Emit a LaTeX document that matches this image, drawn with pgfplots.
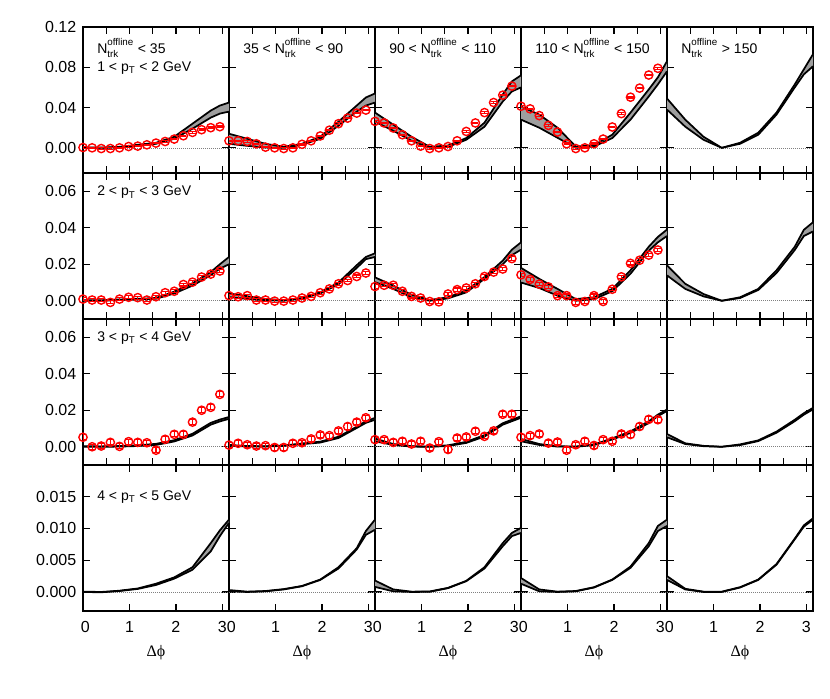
\documentclass[border=0pt]{standalone}
\usepackage{fontspec}
\setmainfont{Liberation Sans}
\newfontfamily\symfont{Liberation Serif}
\usepackage{amsmath}
\usepackage{pgfplots}
\usepackage{pgfplotstable}
\usepgfplotslibrary{groupplots,fillbetween}
\pgfplotsset{compat=1.18}

% ---------- data points (x = i*pi/16) ----------
\pgfplotstableread{
x y
0.0000 0.0003
0.1963 0.0000
0.3927 -0.0007
0.5890 -0.0007
0.7854 0.0000
0.9817 0.0013
1.1781 0.0017
1.3744 0.0030
1.5708 0.0047
1.7671 0.0063
1.9635 0.0087
2.1598 0.0120
2.3562 0.0153
2.5525 0.0180
2.7489 0.0200
2.9452 0.0210
}\dataAa
\pgfplotstableread{
x y
0.0000 0.0070
0.1963 0.0070
0.3927 0.0063
0.5890 0.0040
0.7854 0.0007
0.9817 0.0000
1.1781 -0.0007
1.3744 0.0000
1.5708 0.0035
1.7671 0.0070
1.9635 0.0118
2.1598 0.0175
2.3562 0.0240
2.5525 0.0295
2.7489 0.0345
2.9452 0.0375
}\dataAb
\pgfplotstableread{
x y
0.0000 0.0263
0.1963 0.0247
0.3927 0.0197
0.5890 0.0130
0.7854 0.0070
0.9817 0.0017
1.1781 -0.0007
1.3744 0.0000
1.5708 0.0013
1.7671 0.0070
1.9635 0.0163
2.1598 0.0247
2.3562 0.0350
2.5525 0.0450
2.7489 0.0523
2.9452 0.0613
}\dataAc
\pgfplotstableread{
x y
0.0000 0.0413
0.1963 0.0387
0.3927 0.0320
0.5890 0.0223
0.7854 0.0157
0.9817 0.0040
1.1781 -0.0007
1.3744 0.0000
1.5708 0.0040
1.7671 0.0087
1.9635 0.0207
2.1598 0.0340
2.3562 0.0503
2.5525 0.0593
2.7489 0.0723
2.9452 0.0790
}\dataAd
\pgfplotstableread{
x y
0.0000 0.0009
0.1963 0.0004
0.3927 0.0004
0.5890 -0.0009
0.7854 0.0009
0.9817 0.0019
1.1781 0.0017
1.3744 0.0004
1.5708 0.0022
1.7671 0.0044
1.9635 0.0052
2.1598 0.0089
2.3562 0.0102
2.5525 0.0130
2.7489 0.0146
2.9452 0.0163
}\dataBa
\pgfplotstableread{
x y
0.0000 0.0028
0.1963 0.0022
0.3927 0.0028
0.5890 0.0004
0.7854 0.0004
0.9817 -0.0002
1.1781 -0.0002
1.3744 0.0004
1.5708 0.0015
1.7671 0.0024
1.9635 0.0044
2.1598 0.0065
2.3562 0.0093
2.5525 0.0111
2.7489 0.0133
2.9452 0.0152
}\dataBb
\pgfplotstableread{
x y
0.0000 0.0078
0.1963 0.0085
0.3927 0.0085
0.5890 0.0052
0.7854 0.0024
0.9817 0.0015
1.1781 -0.0004
1.3744 -0.0006
1.5708 0.0037
1.7671 0.0061
1.9635 0.0070
2.1598 0.0093
2.3562 0.0133
2.5525 0.0157
2.7489 0.0174
2.9452 0.0231
}\dataBc
\pgfplotstableread{
x y
0.0000 0.0142
0.1963 0.0117
0.3927 0.0091
0.5890 0.0076
0.7854 0.0028
0.9817 0.0028
1.1781 -0.0009
1.3744 -0.0004
1.5708 0.0028
1.7671 -0.0004
1.9635 0.0063
2.1598 0.0131
2.3562 0.0205
2.5525 0.0222
2.7489 0.0250
2.9452 0.0278
}\dataBd
\pgfplotstableread{
x y
0.0000 0.0052
0.1963 0.0000
0.3927 0.0004
0.5890 0.0024
0.7854 0.0002
0.9817 0.0028
1.1781 0.0024
1.3744 0.0022
1.5708 -0.0019
1.7671 0.0041
1.9635 0.0068
2.1598 0.0068
2.3562 0.0135
2.5525 0.0200
2.7489 0.0216
2.9452 0.0287
}\dataCa
\pgfplotstableread{
x y
0.0000 0.0009
0.1963 0.0019
0.3927 0.0011
0.5890 0.0004
0.7854 0.0006
0.9817 -0.0004
1.1781 -0.0004
1.3744 0.0019
1.5708 0.0022
1.7671 0.0043
1.9635 0.0065
2.1598 0.0061
2.3562 0.0087
2.5525 0.0111
2.7489 0.0135
2.9452 0.0159
}\dataCb
\pgfplotstableread{
x y
0.0000 0.0039
0.1963 0.0039
0.3927 0.0024
0.5890 0.0030
0.7854 0.0015
0.9817 0.0030
1.1781 -0.0007
1.3744 0.0028
1.5708 -0.0015
1.7671 0.0048
1.9635 0.0054
2.1598 0.0085
2.3562 0.0057
2.5525 0.0087
2.7489 0.0178
2.9452 0.0178
}\dataCc
\pgfplotstableread{
x y
0.0000 0.0052
0.1963 0.0061
0.3927 0.0070
0.5890 0.0020
0.7854 0.0026
0.9817 -0.0019
1.1781 0.0011
1.3744 0.0030
1.5708 0.0007
1.7671 0.0039
1.9635 0.0030
2.1598 0.0070
2.3562 0.0067
2.5525 0.0111
2.7489 0.0150
2.9452 0.0148
}\dataCd

% ---------- model bands ----------
\pgfplotstableread{
x lo hi
0.0000 0.0000 0.0005
0.3927 0.0000 0.0003
0.7854 0.0005 0.0010
1.1781 0.0020 0.0030
1.5708 0.0040 0.0050
1.9635 0.0090 0.0110
2.3562 0.0190 0.0240
2.7489 0.0300 0.0370
2.9452 0.0340 0.0420
3.1416 0.0360 0.0450
}\bandAa
\pgfplotstableread{
x lo hi
0.0000 0.0040 0.0140
0.3927 0.0020 0.0090
0.7854 0.0003 0.0040
1.1781 0.0000 0.0010
1.5708 0.0030 0.0040
1.9635 0.0090 0.0110
2.3562 0.0220 0.0260
2.7489 0.0360 0.0420
2.9452 0.0420 0.0500
3.1416 0.0450 0.0540
}\bandAb
\pgfplotstableread{
x lo hi
0.0000 0.0260 0.0350
0.3927 0.0170 0.0230
0.7854 0.0070 0.0110
1.1781 0.0000 0.0010
1.5708 0.0010 0.0023
1.9635 0.0080 0.0097
2.3562 0.0210 0.0250
2.7489 0.0460 0.0530
2.9452 0.0560 0.0660
3.1416 0.0600 0.0720
}\bandAc
\pgfplotstableread{
x lo hi
0.0000 0.0280 0.0410
0.3927 0.0200 0.0330
0.7854 0.0100 0.0200
1.1781 0.0000 0.0013
1.5708 0.0013 0.0027
1.9635 0.0097 0.0130
2.3562 0.0280 0.0350
2.7489 0.0510 0.0580
2.9452 0.0630 0.0700
3.1416 0.0760 0.0860
}\bandAd
\pgfplotstableread{
x lo hi
0.0000 0.0380 0.0490
0.3927 0.0210 0.0280
0.7854 0.0080 0.0110
1.1781 0.0000 0.0000
1.5708 0.0040 0.0050
1.9635 0.0130 0.0150
2.3562 0.0330 0.0350
2.7489 0.0600 0.0630
2.9452 0.0730 0.0780
3.1416 0.0810 0.0930
}\bandAe
\pgfplotstableread{
x lo hi
0.0000 0.0000 0.0003
0.3927 0.0000 0.0003
0.7854 0.0004 0.0007
1.1781 0.0007 0.0011
1.5708 0.0011 0.0015
1.9635 0.0040 0.0050
2.3562 0.0083 0.0096
2.7489 0.0140 0.0157
2.9452 0.0176 0.0200
3.1416 0.0200 0.0240
}\bandBa
\pgfplotstableread{
x lo hi
0.0000 0.0020 0.0040
0.3927 0.0010 0.0025
0.7854 0.0003 0.0010
1.1781 0.0000 0.0003
1.5708 0.0012 0.0015
1.9635 0.0040 0.0046
2.3562 0.0090 0.0100
2.7489 0.0180 0.0195
2.9452 0.0228 0.0240
3.1416 0.0240 0.0260
}\bandBb
\pgfplotstableread{
x lo hi
0.0000 0.0102 0.0128
0.3927 0.0065 0.0083
0.7854 0.0019 0.0033
1.1781 0.0000 0.0004
1.5708 0.0013 0.0019
1.9635 0.0046 0.0056
2.3562 0.0120 0.0130
2.7489 0.0200 0.0220
2.9452 0.0250 0.0280
3.1416 0.0280 0.0320
}\bandBc
\pgfplotstableread{
x lo hi
0.0000 0.0100 0.0180
0.3927 0.0070 0.0120
0.7854 0.0028 0.0065
1.1781 0.0000 0.0009
1.5708 0.0009 0.0019
1.9635 0.0052 0.0065
2.3562 0.0148 0.0167
2.7489 0.0274 0.0296
2.9452 0.0320 0.0350
3.1416 0.0355 0.0390
}\bandBd
\pgfplotstableread{
x lo hi
0.0000 0.0139 0.0194
0.3927 0.0065 0.0093
0.7854 0.0024 0.0037
1.1781 0.0000 0.0000
1.5708 0.0015 0.0019
1.9635 0.0059 0.0065
2.3562 0.0152 0.0167
2.7489 0.0278 0.0296
2.9452 0.0355 0.0389
3.1416 0.0380 0.0430
}\bandBe
\pgfplotstableread{
x lo hi
0.0000 0.0000 0.0003
0.3927 0.0000 0.0002
0.7854 0.0001 0.0004
1.1781 0.0004 0.0008
1.5708 0.0010 0.0016
1.9635 0.0029 0.0036
2.3562 0.0062 0.0071
2.7489 0.0121 0.0131
2.9452 0.0139 0.0149
3.1416 0.0153 0.0163
}\bandCa
\pgfplotstableread{
x lo hi
0.0000 0.0006 0.0010
0.3927 0.0002 0.0004
0.7854 0.0001 0.0003
1.1781 0.0005 0.0007
1.5708 0.0014 0.0018
1.9635 0.0023 0.0028
2.3562 0.0048 0.0055
2.7489 0.0103 0.0110
2.9452 0.0131 0.0140
3.1416 0.0148 0.0158
}\bandCb
\pgfplotstableread{
x lo hi
0.0000 0.0030 0.0045
0.3927 0.0010 0.0015
0.7854 0.0001 0.0003
1.1781 0.0000 0.0001
1.5708 0.0004 0.0008
1.9635 0.0021 0.0027
2.3562 0.0056 0.0064
2.7489 0.0121 0.0129
2.9452 0.0140 0.0148
3.1416 0.0159 0.0167
}\bandCc
\pgfplotstableread{
x lo hi
0.0000 0.0030 0.0043
0.3927 0.0010 0.0015
0.7854 0.0001 0.0003
1.1781 0.0000 0.0001
1.5708 0.0009 0.0013
1.9635 0.0040 0.0046
2.3562 0.0076 0.0084
2.7489 0.0130 0.0140
2.9452 0.0168 0.0176
3.1416 0.0196 0.0204
}\bandCd
\pgfplotstableread{
x lo hi
0.0000 0.0052 0.0070
0.3927 0.0015 0.0019
0.7854 0.0003 0.0005
1.1781 0.0000 0.0000
1.5708 0.0009 0.0013
1.9635 0.0031 0.0035
2.3562 0.0077 0.0083
2.7489 0.0140 0.0148
2.9452 0.0176 0.0184
3.1416 0.0205 0.0213
}\bandCe
\pgfplotstableread{
x lo hi
0.0000 0.00000 0.00005
0.3927 -0.00005 0.00000
0.7854 0.00015 0.00020
1.1781 0.00048 0.00055
1.5708 0.00110 0.00130
1.9635 0.00210 0.00230
2.3562 0.00350 0.00390
2.7489 0.00640 0.00770
2.9452 0.00880 0.00970
3.1416 0.01090 0.01140
}\bandDa
\pgfplotstableread{
x lo hi
0.0000 0.00010 0.00030
0.3927 0.00000 0.00005
0.7854 0.00010 0.00015
1.1781 0.00040 0.00045
1.5708 0.00090 0.00095
1.9635 0.00190 0.00195
2.3562 0.00370 0.00390
2.7489 0.00670 0.00690
2.9452 0.00900 0.00960
3.1416 0.00980 0.01140
}\bandDb
\pgfplotstableread{
x lo hi
0.0000 0.00080 0.00180
0.3927 0.00010 0.00040
0.7854 0.00000 0.00005
1.1781 0.00003 0.00008
1.5708 0.00060 0.00065
1.9635 0.00170 0.00175
2.3562 0.00370 0.00390
2.7489 0.00720 0.00770
2.9452 0.00880 0.00930
3.1416 0.00930 0.01010
}\bandDc
\pgfplotstableread{
x lo hi
0.0000 0.00130 0.00220
0.3927 0.00010 0.00040
0.7854 0.00000 0.00005
1.1781 0.00010 0.00015
1.5708 0.00070 0.00075
1.9635 0.00190 0.00195
2.3562 0.00380 0.00400
2.7489 0.00720 0.00770
2.9452 0.00960 0.01040
3.1416 0.01040 0.01140
}\bandDd
\pgfplotstableread{
x lo hi
0.0000 0.00190 0.00250
0.3927 0.00040 0.00050
0.7854 0.00000 0.00005
1.1781 0.00000 0.00005
1.5708 0.00070 0.00075
1.9635 0.00190 0.00195
2.3562 0.00430 0.00440
2.7489 0.00830 0.00840
2.9452 0.01030 0.01050
3.1416 0.01140 0.01160
}\bandDe

\newcommand{\lf}{\fontsize{10.5pt}{12pt}\selectfont}
\newcommand{\tf}{\fontsize{12pt}{14pt}\selectfont}
\newcommand{\zero}{\addplot[gray, densely dotted, line width=0.5pt, forget plot] coordinates {(0,0) (3.1416,0)};}
\newcommand{\band}[1]{%
  \addplot[draw=none, name path=lo, forget plot] table[x=x,y=lo]{#1};
  \addplot[draw=none, name path=hi, forget plot] table[x=x,y=hi]{#1};
  \addplot[fill=black!38, draw=none, forget plot] fill between[of=lo and hi];
  \addplot[black, line width=1.3pt, forget plot] table[x=x,y=lo]{#1};
  \addplot[black, line width=1.3pt, forget plot] table[x=x,y=hi]{#1};
}
\newcommand{\pts}[2]{%
  \addplot[red, only marks, mark=o, mark size=3.1pt, line width=1.05pt,
    error bars/.cd, y dir=both, y fixed=#2,
    error bar style={line width=0.8pt, red},
    error mark options={rotate=90, mark size=2.3pt, line width=0.8pt, red}]
    table[x=x,y=y]{#1};
}
\newcommand{\lab}[2]{\node[anchor=base west, font=\lf, inner sep=0pt] at (rel axis cs:0.096,#1) {#2};}
\newcommand{\Nt}{N$^{\text{\raisebox{1.5pt}{offline}}}_{\text{\raisebox{-0.8pt}{trk}}}$}
\newcommand{\pT}{p$_{\text{T}}$}

\pgfplotsset{
  rowA/.style={ymin=-0.025, ymax=0.12, ytick={0,0.04,0.08,0.12},
    yticklabel style={/pgf/number format/fixed, /pgf/number format/fixed zerofill, /pgf/number format/precision=2}},
  rowB/.style={ymin=-0.01, ymax=0.07, ytick={0,0.02,0.04,0.06},
    yticklabel style={/pgf/number format/fixed, /pgf/number format/fixed zerofill, /pgf/number format/precision=2}},
  rowD/.style={ymin=-0.003, ymax=0.02, ytick={0,0.005,0.01,0.015},
    yticklabel style={/pgf/number format/fixed, /pgf/number format/fixed zerofill, /pgf/number format/precision=3},
    minor x tick style={draw=none}},
}

\begin{document}
\begin{tikzpicture}
\begin{groupplot}[
  group style={group name=G, group size=5 by 4, horizontal sep=0pt, vertical sep=0pt,
    xticklabels at=edge bottom, yticklabels at=edge left, xlabels at=edge bottom},
  width=109.5pt, height=109.5pt, scale only axis,
  xmin=0, xmax=3.1416,
  xtick={0,1,2,3}, minor xtick={0.5,1.5,2.5},
  xticklabels={{\hspace{3.4pt}0},1,2,{3\hspace{3.8pt}}},
  scaled y ticks=false,
  /pgf/number format/assume math mode=true,
  tick label style={font=\tf},
  xticklabel style={yshift=-4.2pt},
  yticklabel style={xshift=-1.5pt},
  major tick length=5pt, minor tick length=5pt,
  tick style={line width=0.9pt, black},
  axis line style={line width=1.1pt},
  tick align=inside,
  xlabel={\fontsize{12pt}{14pt}\selectfont\symfont Δϕ},
  xlabel style={yshift=-3pt},
]
% ---- row 1 ----
\nextgroupplot[rowA]
\coordinate (tl) at (rel axis cs:0,1);
\zero \band{\bandAa} \pts{\dataAa}{0.0007}
\lab{0.82}{\Nt{} < 35}
\lab{0.694}{1 < \pT{} < 2 GeV}
\nextgroupplot[rowA]
\zero \band{\bandAb} \pts{\dataAb}{0.0007}
\lab{0.82}{35 < \Nt{} < 90}
\nextgroupplot[rowA]
\zero \band{\bandAc} \pts{\dataAc}{0.0007}
\lab{0.82}{90 < \Nt{} < 110}
\nextgroupplot[rowA]
\zero \band{\bandAd} \pts{\dataAd}{0.0008}
\lab{0.82}{110 < \Nt{} < 150}
\nextgroupplot[rowA]
\zero \band{\bandAe}
\lab{0.82}{\Nt{} > 150}
% ---- row 2 ----
\nextgroupplot[rowB]
\zero \band{\bandBa} \pts{\dataBa}{0.0008}
\lab{0.843}{2 < \pT{} < 3 GeV}
\nextgroupplot[rowB]
\zero \band{\bandBb} \pts{\dataBb}{0.0008}
\nextgroupplot[rowB]
\zero \band{\bandBc} \pts{\dataBc}{0.0009}
\nextgroupplot[rowB]
\zero \band{\bandBd} \pts{\dataBd}{0.0009}
\nextgroupplot[rowB]
\zero \band{\bandBe}
% ---- row 3 ----
\nextgroupplot[rowB]
\zero \band{\bandCa} \pts{\dataCa}{0.0014}
\lab{0.847}{3 < \pT{} < 4 GeV}
\nextgroupplot[rowB]
\zero \band{\bandCb} \pts{\dataCb}{0.0014}
\nextgroupplot[rowB]
\zero \band{\bandCc} \pts{\dataCc}{0.0014}
\nextgroupplot[rowB]
\zero \band{\bandCd} \pts{\dataCd}{0.0014}
\nextgroupplot[rowB]
\zero \band{\bandCe}
% ---- row 4 ----
\nextgroupplot[rowD]
\zero \band{\bandDa}
\lab{0.76}{4 < \pT{} < 5 GeV}
\nextgroupplot[rowD]
\zero \band{\bandDb}
\nextgroupplot[rowD]
\zero \band{\bandDc}
\nextgroupplot[rowD]
\zero \band{\bandDd}
\nextgroupplot[rowD]
\zero \band{\bandDe}
\coordinate (br) at (rel axis cs:1,0);
\end{groupplot}
\path (tl) ++(-62.25pt,20.25pt) coordinate (TL);
\path (br) ++(12.75pt,-65.25pt) coordinate (BR);
\path (TL) rectangle (BR);
\end{tikzpicture}
\end{document}
